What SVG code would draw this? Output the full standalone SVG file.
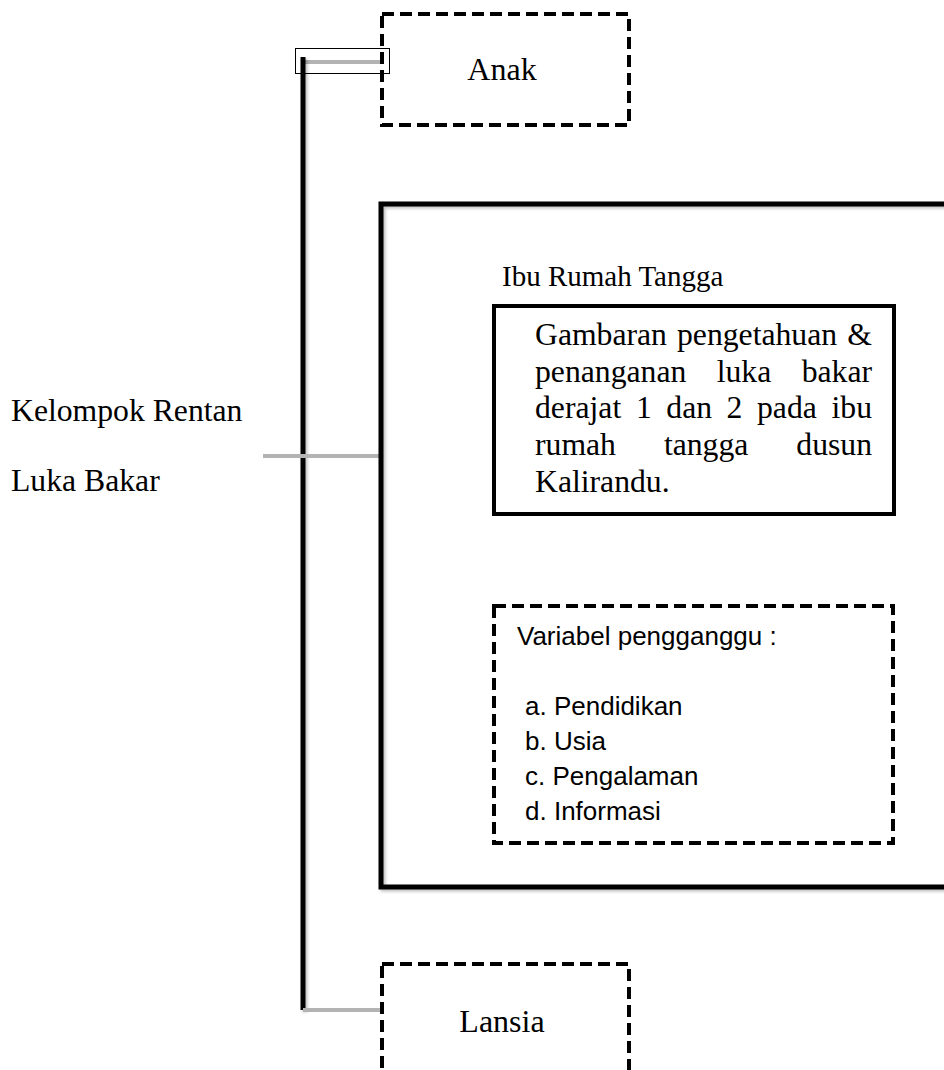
<svg xmlns="http://www.w3.org/2000/svg" width="944" height="1070" viewBox="0 0 944 1070">
<defs>
<filter id="sh" filterUnits="userSpaceOnUse" x="0" y="0" width="944" height="1070">
<feDropShadow dx="2" dy="2" stdDeviation="1.5" flood-color="#000" flood-opacity="0.25"/>
</filter>
</defs>
<style>
.tr{font-family:"Liberation Serif","Times New Roman",serif;fill:#000}
.ca{font-family:"Liberation Sans",Arial,sans-serif;fill:#000}
.dash{fill:none;stroke:#000;stroke-width:4;stroke-dasharray:12 6}
.solid{fill:none;stroke:#000}
.grey{stroke:#b3b3b3;stroke-width:4;fill:none}
</style>
<rect width="944" height="1070" fill="#fff"/>
<g id="connectors">
<line class="grey" x1="303" y1="62" x2="381" y2="62"/>
<rect x="295.5" y="48.5" width="94" height="25" fill="none" stroke="#000" stroke-width="1"/>
<rect x="300.5" y="57" width="5" height="953" fill="#000" filter="url(#sh)"/>
<line class="grey" x1="303" y1="1010" x2="381" y2="1010"/>
<line class="grey" x1="263" y1="456" x2="383" y2="456"/>
</g>
<g id="anak">
<rect class="dash" x="382" y="14" width="247" height="111"/>
<text class="tr" x="502" y="80" font-size="32" text-anchor="middle">Anak</text>
</g>
<g id="kelompok">
<text class="tr" x="11" y="421" font-size="31.7">Kelompok Rentan</text>
<text class="tr" x="11" y="491" font-size="31.7">Luka Bakar</text>
</g>
<g id="ibu-rumah-tangga">
<rect class="solid" x="381" y="204" width="600" height="683" stroke-width="5" filter="url(#sh)"/>
<text class="tr" x="502" y="286" font-size="29">Ibu Rumah Tangga</text>
</g>
<g id="gambaran">
<rect class="solid" x="494" y="306" width="400" height="208" stroke-width="4"/>
<g class="tr" font-size="31.7">
<text x="535" y="345">Gambaran</text><text x="677" y="345">pengetahuan</text><text x="872" y="345" text-anchor="end">&amp;</text>
<text x="535" y="382">penanganan</text><text x="716.7" y="382">luka</text><text x="872" y="382" text-anchor="end">bakar</text>
<text x="535" y="418">derajat</text><text x="635.9" y="418">1</text><text x="666.3" y="418">dan</text><text x="726.6" y="418">2</text><text x="757" y="418">pada</text><text x="872" y="418" text-anchor="end">ibu</text>
<text x="535" y="455">rumah</text><text x="663.9" y="455">tangga</text><text x="872" y="455" text-anchor="end">dusun</text>
<text x="535" y="492">Kalirandu.</text>
</g>
</g>
<g id="variabel">
<rect class="dash" x="494" y="606" width="399" height="237" stroke-width="3.5"/>
<g class="ca" font-size="26">
<text x="517" y="645">Variabel pengganggu :</text>
<text x="525" y="715">a. Pendidikan</text>
<text x="525" y="750">b. Usia</text>
<text x="525" y="785">c. Pengalaman</text>
<text x="525" y="820">d. Informasi</text>
</g>
</g>
<g id="lansia">
<rect class="dash" x="382" y="964" width="247" height="120"/>
<text class="tr" x="502" y="1032" font-size="32" text-anchor="middle">Lansia</text>
</g>
</svg>
